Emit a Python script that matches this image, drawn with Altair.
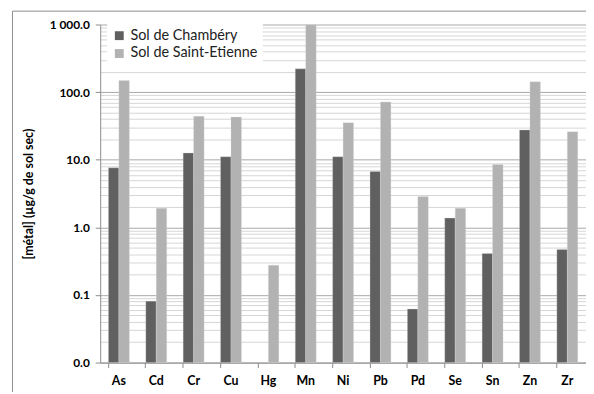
import altair as alt
import pandas as pd

categories = ["As", "Cd", "Cr", "Cu", "Hg", "Mn", "Ni", "Pb", "Pd", "Se", "Sn", "Zn", "Zr"]
chambery = [7.6, 0.081, 12.6, 11.1, None, 221, 11.1, 6.7, 0.062, 1.37, 0.41, 27.6, 0.47]
st_etienne = [148, 1.92, 44, 42.8, 0.276, 990, 35.3, 71.6, 2.85, 1.92, 8.5, 142, 25.9]
series = ["Sol de Chambéry", "Sol de Saint-Etienne"]
colors = ["#606060", "#b2b2b2"]

rows = []
for i, c in enumerate(categories):
    rows.append({"metal": c, "sol": series[0], "v": chambery[i]})
    rows.append({"metal": c, "sol": series[1], "v": st_etienne[i]})
df = pd.DataFrame(rows)

tick_vals = [m * 10 ** k for k in range(-2, 3) for m in range(1, 10)] + [1000]
tick_vals = [round(v, 6) for v in tick_vals]

is_major = "abs(log(datum.value)/LN10 - round(log(datum.value)/LN10)) < 0.000001"
label_expr = (
    f"({is_major}) ? (datum.value >= 999 ? '1 000.0' : (datum.value < 0.05 ? '0.0' : format(datum.value, '.1f'))) : ''"
)

FONT = "Lato"

bars = alt.Chart(df).mark_bar(stroke="#d8d8d8", strokeWidth=0.5, strokeOpacity=0.6).encode(
    x=alt.X("metal:N", sort=categories, title=None,
            scale=alt.Scale(paddingInner=0.44, paddingOuter=0.22),
            axis=alt.Axis(labelAngle=0, labelFont=FONT, labelFontWeight="bold", labelFontSize=12.5,
                          labelColor="#000", domainColor="#8c8c8c", tickColor="#8c8c8c",
                          bandPosition=0, tickSize=5, labelPadding=7)),
    xOffset=alt.XOffset("sol:N", sort=series),
    y=alt.Y("v:Q", title="[métal] (µg/g de sol sec)",
            scale=alt.Scale(type="log", domain=[0.01, 1000], nice=False),
            axis=alt.Axis(values=tick_vals, labelExpr=label_expr, grid=True,
                          gridColor={"condition": {"test": is_major, "value": "#a8a8a8"}, "value": "#d6d6d6"},
                          tickColor={"condition": {"test": is_major, "value": "#8c8c8c"}, "value": "transparent"},
                          tickSize=5, domainColor="#8c8c8c",
                          labelFont=FONT, labelFontWeight="bold", labelFontSize=12, labelColor="#000",
                          labelPadding=6,
                          titleFont=FONT, titleFontWeight="bold", titleFontSize=12.5, titleColor="#000",
                          titlePadding=14)),
    y2=alt.datum(0.01),
    color=alt.Color("sol:N", sort=series, scale=alt.Scale(domain=series, range=colors),
                    legend=alt.Legend(title=None, orient="none", legendX=7, legendY=-1,
                                      fillColor="white", padding=5, symbolType="square",
                                      symbolSize=80, symbolStrokeWidth=0, labelFont=FONT,
                                      labelFontSize=14.5, labelColor="#222", rowPadding=3)),
)

frame_df = pd.DataFrame({"k": [0]})
frame_left = alt.Chart(frame_df).mark_rule(color="#8c8c8c", strokeWidth=1).encode(
    x=alt.value(-88.5), y=alt.value(-13.5), y2=alt.value(400))
frame_top = alt.Chart(frame_df).mark_rule(color="#8c8c8c", strokeWidth=1).encode(
    x=alt.value(-88.5), x2=alt.value(500), y=alt.value(-13.5))

chart = alt.layer(bars, frame_left, frame_top).properties(
    width=490, height=341,
    autosize=alt.AutoSizeParams(type="none"),
    padding={"left": 93, "top": 15, "right": 0, "bottom": 28},
).configure_view(stroke=None)

chart.save("out.html", embed_options={"renderer": "svg", "actions": False})
